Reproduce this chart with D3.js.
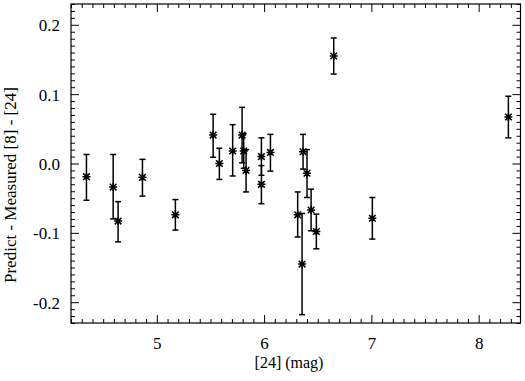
<!DOCTYPE html>
<html>
<head>
<meta charset="utf-8">
<script src="https://cdn.jsdelivr.net/npm/d3@7"></script>
<style>
  html, body { margin: 0; padding: 0; background: #fff; }
  svg { display: block; }
</style>
</head>
<body>
<svg id="chart" width="525" height="381"></svg>
<script>
// ---- data ----
const mag24   = [4.344, 4.593, 4.639, 4.866, 5.173, 5.525, 5.583, 5.707, 5.795, 5.810, 5.832, 5.975, 5.975, 6.059, 6.313, 6.354, 6.363, 6.400, 6.438, 6.487, 6.649, 7.009, 8.277];
const diff    = [-0.019, -0.034, -0.083, -0.020, -0.074, 0.041, 0.000, 0.018, 0.041, 0.018, -0.010, 0.010, -0.030, 0.016, -0.074, -0.145, 0.017, -0.014, -0.067, -0.098, 0.155, -0.079, 0.067];
const errHigh = [0.013, 0.013, -0.055, 0.006, -0.052, 0.071, 0.022, 0.056, 0.081, 0.043, 0.020, 0.037, -0.003, 0.042, -0.041, -0.072, 0.042, 0.020, -0.037, -0.073, 0.181, -0.049, 0.097];
const errLow  = [-0.053, -0.080, -0.113, -0.047, -0.096, 0.009, -0.023, -0.018, 0.001, -0.007, -0.041, -0.017, -0.058, -0.011, -0.106, -0.218, -0.008, -0.049, -0.097, -0.123, 0.129, -0.109, 0.037];

const xMajorTicks  = [5, 6, 7, 8];
const xTickLabels  = ["5", "6", "7", "8"];
const yMajorTicks  = [-0.2, -0.1, 0.0, 0.1, 0.2];
const yTickLabels  = ["-0.2", "-0.1", "0.0", "0.1", "0.2"];
const xDomain = [4.2, 8.39];
const yDomain = [-0.23, 0.23];
const xTitle = "[24] (mag)";
const yTitle = "Predict - Measured [8] - [24]";

const FONT = "'Liberation Serif', 'Times New Roman', Times, 'DejaVu Serif', serif";

// ---- layout ----
const L = 71, R = 520.5, T = 4, B = 323;
const svg = d3.select("#chart");
const x = d3.scaleLinear().domain(xDomain).range([L, R]);
const y = d3.scaleLinear().domain(yDomain).range([B, T]);

const xMinor = d3.range(Math.ceil(xDomain[0]*10), Math.floor(xDomain[1]*10)+1).map(i => i/10)
  .filter(v => !xMajorTicks.some(m => Math.abs(m - v) < 1e-9));
const yMinor = d3.range(Math.ceil(yDomain[0]*100), Math.floor(yDomain[1]*100)+1).map(i => i/100)
  .filter(v => !yMajorTicks.some(m => Math.abs(m - v) < 1e-9));

const MAJ = 8, MIN = 4;
function styleAxis(g) {
  g.attr("font-family", FONT);
  g.select(".domain").remove();
  g.selectAll("line").attr("stroke", "#000").attr("stroke-width", 1);
}

// bottom
svg.append("g").attr("transform", `translate(0,${B})`)
  .call(d3.axisBottom(x).tickValues(xMinor).tickSize(-MIN).tickFormat(""))
  .call(styleAxis);
const bx = svg.append("g").attr("transform", `translate(0,${B})`)
  .call(d3.axisBottom(x).tickValues(xMajorTicks).tickSize(-MAJ)
        .tickFormat((d, i) => xTickLabels[i]))
  .call(styleAxis);
bx.selectAll("text").attr("y", 26).attr("dy", 0)
  .style("font-family", FONT).style("font-size", "17px").attr("fill", "#000");
// top
svg.append("g").attr("transform", `translate(0,${T})`)
  .call(d3.axisTop(x).tickValues(xMinor).tickSize(-MIN).tickFormat(""))
  .call(styleAxis);
svg.append("g").attr("transform", `translate(0,${T})`)
  .call(d3.axisTop(x).tickValues(xMajorTicks).tickSize(-MAJ).tickFormat(""))
  .call(styleAxis);
// left
svg.append("g").attr("transform", `translate(${L},0)`)
  .call(d3.axisLeft(y).tickValues(yMinor).tickSize(-MIN).tickFormat(""))
  .call(styleAxis);
const ly = svg.append("g").attr("transform", `translate(${L},0)`)
  .call(d3.axisLeft(y).tickValues(yMajorTicks).tickSize(-MAJ)
        .tickFormat((d, i) => yTickLabels[i]))
  .call(styleAxis);
ly.selectAll("text").attr("x", -11).attr("dy", "0.35em")
  .style("font-family", FONT).style("font-size", "17px").attr("fill", "#000");
// right
svg.append("g").attr("transform", `translate(${R},0)`)
  .call(d3.axisRight(y).tickValues(yMinor).tickSize(-MIN).tickFormat(""))
  .call(styleAxis);
svg.append("g").attr("transform", `translate(${R},0)`)
  .call(d3.axisRight(y).tickValues(yMajorTicks).tickSize(-MAJ).tickFormat(""))
  .call(styleAxis);

// frame
svg.append("rect").attr("x", L).attr("y", T).attr("width", R - L).attr("height", B - T)
  .attr("fill", "none").attr("stroke", "#000").attr("stroke-width", 1.2);

// titles
svg.append("text").attr("x", 289).attr("y", 368).attr("text-anchor", "middle")
  .style("font-family", FONT).style("font-size", "16px").attr("fill", "#000").text(xTitle);
svg.append("text").attr("transform", "translate(16,283) rotate(-90)")
  .attr("text-anchor", "start")
  .style("font-family", FONT).style("font-size", "17px").attr("fill", "#000").text(yTitle);

// data
const pts = mag24.map((d, i) => ({ x: d, y: diff[i], hi: errHigh[i], lo: errLow[i] }));
const g = svg.append("g").attr("stroke", "#000").attr("stroke-width", 1.5).attr("fill", "none");
const cap = 3;
const eb = g.selectAll("g.eb").data(pts).enter().append("g");
eb.append("line").attr("x1", d => x(d.x)).attr("x2", d => x(d.x))
  .attr("y1", d => y(d.hi)).attr("y2", d => y(d.lo));
eb.append("line").attr("x1", d => x(d.x) - cap).attr("x2", d => x(d.x) + cap)
  .attr("y1", d => y(d.hi)).attr("y2", d => y(d.hi));
eb.append("line").attr("x1", d => x(d.x) - cap).attr("x2", d => x(d.x) + cap)
  .attr("y1", d => y(d.lo)).attr("y2", d => y(d.lo));
const s = 4, dg = 3.3;
const star = `M${-s},0L${s},0M0,${-s}L0,${s}M${-dg},${-dg}L${dg},${dg}M${-dg},${dg}L${dg},${-dg}`;
g.selectAll("path.star").data(pts).enter().append("path")
  .attr("class", "star")
  .attr("transform", d => `translate(${x(d.x)},${y(d.y)})`)
  .attr("d", star);
</script>
</body>
</html>
